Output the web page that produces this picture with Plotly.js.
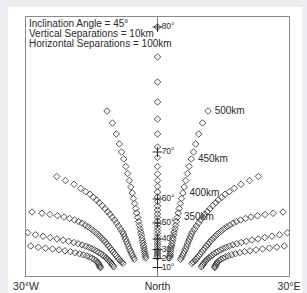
<!DOCTYPE html>
<html>
<head>
<meta charset="utf-8">
<script src="https://cdn.plot.ly/plotly-3.0.1.min.js"></script>
<style>
  html, body { margin: 0; padding: 0; background: #eceef1; width: 307px; height: 293px; overflow: hidden; }
  #chart { position: absolute; left: 8px; top: 7px; width: 294px; height: 286px; background: #ffffff; }
</style>
</head>
<body>
<div id="chart"></div>
<script>
// x: azimuth in degrees (negative = west), y: relative height in the sky image
const centerX = [0,0,0,0,0,0,0,0,0,0,0,0,0,0,0,0,0,0,0,0,0,0,0,0,0,0,0,0,0,0,0,0,0,0];
const centerY = [249,219,194,174,157,142,129,118.5,109.5,102,95.5,89.5,84,79,74.5,70,66,62,58.5,55,51.5,48.5,45.5,42.5,39.5,37,34.5,32,29.5,27,25,23,21,19];

const r5X = [11.52,10.27,9.40,8.72,8.21,7.71,7.23,6.82,6.43,6.09,5.77,5.48,5.22,4.97,4.75,4.52,4.31,4.13,3.97,3.81,3.67,3.54,3.42,3.31,3.19,3.10,3.01,2.92,2.85,2.78,2.72];
const r5Y = [165,153,142,132,124,117,109.5,102.5,95.5,89,83,77.5,72.5,67.5,63,58.5,54.5,50.7,47.2,43.9,40.8,37.9,35.2,32.7,30.3,28,25.8,23.7,21.7,19.8,18];
const l5X = [-11.52,-10.27,-9.40,-8.72,-8.21,-7.71,-7.23,-6.82,-6.43,-6.09,-5.77,-5.48,-5.22,-4.97,-4.75,-4.52,-4.31,-4.13,-3.97,-3.81,-3.67,-3.54,-3.42,-3.31,-3.19,-3.10,-3.01,-2.92,-2.85,-2.78,-2.72];
const l5Y = [165,153,142,132,124,117,109.5,102.5,95.5,89,83,77.5,72.5,67.5,63,58.5,54.5,50.7,47.2,43.9,40.8,37.9,35.2,32.7,30.3,28,25.8,23.7,21.7,19.8,18];

const r4X = [23.0,21.0,19.05,17.52,16.38,15.40,14.65,13.87,13.28,12.59,11.98,11.36,10.84,10.31,9.81,9.35,8.90,8.44,8.03,7.76,7.53,7.30,7.07,6.84,6.62,6.39,6.16,5.93,5.70,5.48,5.29];
const r4Y = [99.5,95.5,91.7,87.7,84.3,81.7,78.7,76,73.3,70.3,67.3,64.3,61.7,58.7,56,53,50,47,44.3,42,39.5,37,34.5,32,29.5,27,24.7,22.5,20.5,18.5,16.7];
const l4X = [-23.0,-21.0,-19.05,-17.52,-16.38,-15.40,-14.65,-13.87,-13.28,-12.59,-11.98,-11.36,-10.84,-10.31,-9.81,-9.35,-8.90,-8.44,-8.03,-7.76,-7.53,-7.30,-7.07,-6.84,-6.62,-6.39,-6.16,-5.93,-5.70,-5.48,-5.29];
const l4Y = [99.5,95.5,91.7,87.7,84.3,81.7,78.7,76,73.3,70.3,67.3,64.3,61.7,58.7,56,53,50,47,44.3,42,39.5,37,34.5,32,29.5,27,24.7,22.5,20.5,18.5,16.7];

const r3X = [28.63,26.35,24.53,22.82,21.33,20.08,18.94,18.02,17.23,16.50,15.86,15.24,14.67,14.15,13.64,13.16,12.71,12.27,11.86,11.48,11.11,10.75,10.40,10.06,9.72,9.40,9.08,8.76,8.46,8.17,7.87];
const r3Y = [64,62.7,61.5,60.2,59,57.5,56,54.4,52.8,51,49.2,47.4,45.5,43.6,41.7,39.7,37.7,35.7,33.7,31.7,29.7,27.7,25.7,23.8,21.9,20.1,18.4,16.8,15.3,14,12.7];
const l3X = [-28.63,-26.35,-24.53,-22.82,-21.33,-20.08,-18.94,-18.02,-17.23,-16.50,-15.86,-15.24,-14.67,-14.15,-13.64,-13.16,-12.71,-12.27,-11.86,-11.48,-11.11,-10.75,-10.40,-10.06,-9.72,-9.40,-9.08,-8.76,-8.46,-8.17,-7.87];
const l3Y = [64,62.7,61.5,60.2,59,57.5,56,54.4,52.8,51,49.2,47.4,45.5,43.6,41.7,39.7,37.7,35.7,33.7,31.7,29.7,27.7,25.7,23.8,21.9,20.1,18.4,16.8,15.3,14,12.7];

const r2X = [29.61,27.84,26.12,24.48,22.93,21.52,20.24,19.10,18.09,17.20,16.40,15.67,15.01,14.40,13.85,13.35,12.89,12.48,12.11,11.77,11.45,11.16,10.88,10.63,10.40,10.20,10.02];
const r2Y = [43.3,41.2,39.8,38.4,37.1,35.9,34.7,33.5,32.3,31.1,29.9,28.7,27.4,26.1,24.8,23.5,22.2,20.9,19.6,18.3,17,15.7,14.4,13.1,11.8,10.5,9.2];
const l2X = [-29.61,-27.84,-26.12,-24.48,-22.93,-21.52,-20.24,-19.10,-18.09,-17.20,-16.40,-15.67,-15.01,-14.40,-13.85,-13.35,-12.89,-12.48,-12.11,-11.77,-11.45,-11.16,-10.88,-10.63,-10.40,-10.20,-10.02];
const l2Y = [43.3,41.2,39.8,38.4,37.1,35.9,34.7,33.5,32.3,31.1,29.9,28.7,27.4,26.1,24.8,23.5,22.2,20.9,19.6,18.3,17,15.7,14.4,13.1,11.8,10.5,9.2];

const r1X = [28.93,27.22,25.55,23.96,22.47,21.10,19.87,18.78,17.80,16.93,16.15,15.49,14.92,14.44,14.08,13.78,13.55,13.37,13.23,13.12,13.05];
const r1Y = [30,28.8,27.9,27,26.1,25.2,24.3,23.3,22.3,21.2,20.1,19,17.8,16.6,15.4,14.2,13,11.8,10.6,9.4,8.4];
const l1X = [-28.93,-27.22,-25.55,-23.96,-22.47,-21.10,-19.87,-18.78,-17.80,-16.93,-16.15,-15.49,-14.92,-14.44,-14.08,-13.78,-13.55,-13.37,-13.23,-13.12,-13.05];
const l1Y = [30,28.8,27.9,27,26.1,25.2,24.3,23.3,22.3,21.2,20.1,19,17.8,16.6,15.4,14.2,13,11.8,10.6,9.4,8.4];

const elevX = [0,0,0,0,0,0,0,0];
const elevY = [249,124,77,53,37,26.5,17.5,8.5];
const elevLabels = ['80°','70°','60°','50°','40°','30°','20°','10°'];

const heightIdx = [0,5,10,15];
const heightLabels = ['500km','450km','400km','350km'];

const xTickVals = [-30,0,30];
const xTickText = ['30°W','North','30°E'];

const infoLines = ['Inclination Angle = 45°','Vertical Separations = 10km','Horizontal Separations = 100km'];

const FONT = 'Liberation Sans, Arial, Helvetica, sans-serif';
const INK = '#2b2b2b';
const CLEAR = 'rgba(0,0,0,0)';

const labelTraces = [
  { x: elevX, y: elevY, mode: 'markers+text', text: elevLabels, textposition: 'middle right',
    marker: { size: 5, color: CLEAR }, textfont: { family: FONT, size: 8.5, color: INK },
    hoverinfo: 'skip', showlegend: false, cliponaxis: false },
  { x: heightIdx.map(i => r5X[i]), y: heightIdx.map(i => r5Y[i]), mode: 'markers+text', text: heightLabels,
    textposition: 'middle right', marker: { size: 9, color: CLEAR },
    textfont: { family: FONT, size: 10, color: INK }, hoverinfo: 'skip', showlegend: false }
];

const diamond = { symbol: 'diamond-open', size: 5, color: '#404040', line: { width: 0.9, color: '#404040' } };
const arms = [[centerX, centerY],[r5X,r5Y],[l5X,l5Y],[r4X,r4Y],[l4X,l4Y],[r3X,r3Y],[l3X,l3Y],[r2X,r2Y],[l2X,l2Y],[r1X,r1Y],[l1X,l1Y]];
const armTraces = arms.map(a => ({ x: a[0], y: a[1], mode: 'markers', marker: diamond, hoverinfo: 'skip', showlegend: false }));

const crossTrace = { x: elevX, y: elevY, mode: 'markers',
  marker: { symbol: 'cross-thin-open', size: 7, color: INK, line: { width: 1, color: INK } },
  hoverinfo: 'skip', showlegend: false };

const layout = {
  width: 294, height: 286,
  margin: { l: 18, r: 13, t: 10, b: 17 },
  paper_bgcolor: '#ffffff', plot_bgcolor: '#ffffff',
  font: { family: FONT, size: 10, color: INK },
  xaxis: { range: [-30, 30], tickvals: xTickVals, ticktext: xTickText, ticks: 'inside', ticklen: 7,
    tickcolor: '#777', mirror: 'ticks', showline: true, linecolor: '#8a8a8a', linewidth: 1,
    showgrid: false, zeroline: false, tickfont: { family: FONT, size: 10.5, color: INK }, fixedrange: true },
  yaxis: { range: [0, 259], showticklabels: false, ticks: '', showline: true, mirror: true,
    linecolor: '#8a8a8a', linewidth: 1, showgrid: false, zeroline: false, fixedrange: true },
  annotations: infoLines.map((t, i) => ({
    xref: 'paper', yref: 'paper', x: 0, y: 1, xanchor: 'left', yanchor: 'top', xshift: 2, yshift: 0 - 10 * i,
    align: 'left', showarrow: false, text: t, borderpad: 0,
    font: { family: FONT, size: 10, color: INK }
  }))
};

Plotly.newPlot('chart', labelTraces.concat(armTraces, [crossTrace]), layout, { staticPlot: true, displayModeBar: false });
</script>
</body>
</html>
